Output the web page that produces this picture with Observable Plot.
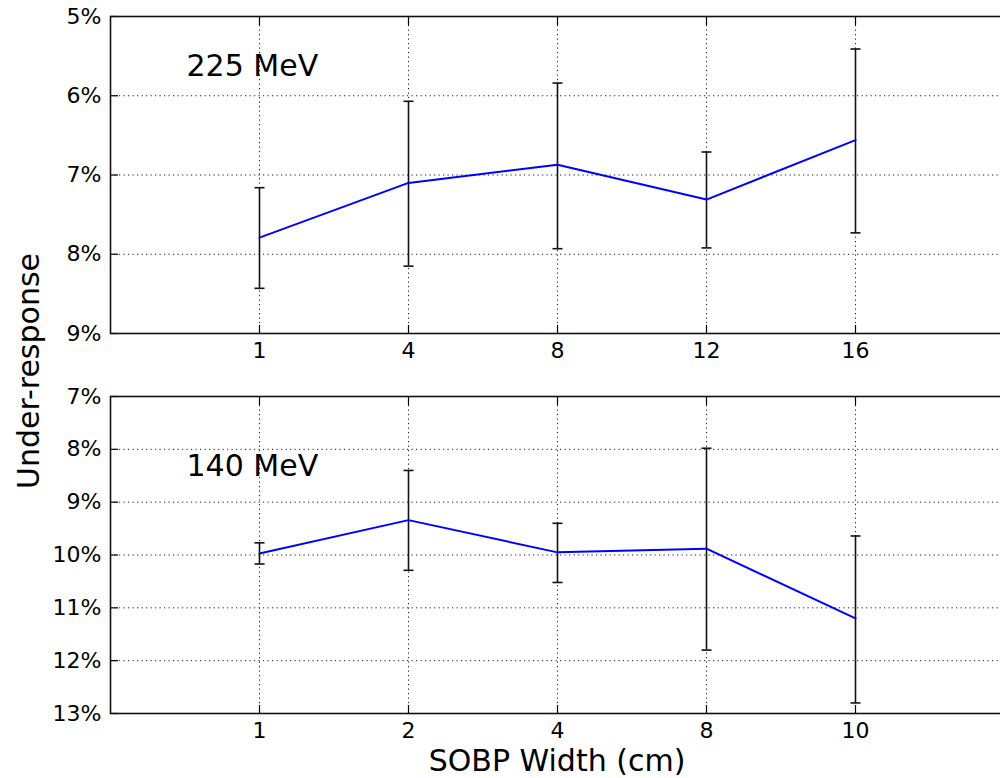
<!DOCTYPE html>
<html><head><meta charset="utf-8">
<script src="https://cdn.jsdelivr.net/npm/d3@7"></script>
<script src="https://cdn.jsdelivr.net/npm/@observablehq/plot@0.6"></script>
<style>
html,body{margin:0;padding:0;background:#fff;overflow:hidden;}
#wrap{position:relative;width:1000px;height:778px;overflow:hidden;font-family:"DejaVu Sans",sans-serif;color:#000;background:#fff;}
.panel{position:absolute;left:0;width:1004px;height:370px;}
.panel svg{max-width:none !important;}
#ylab{position:absolute;left:28px;top:371px;transform:translate(-50%,-50%) rotate(-90deg);font-size:30px;white-space:nowrap;}
#xlab{position:absolute;left:557px;top:760px;transform:translate(-50%,-50%);font-size:30px;white-space:nowrap;}
</style></head><body>
<div id="wrap">
  <div class="panel" id="p1" style="top:0px"></div>
  <div class="panel" id="p2" style="top:380px"></div>
  <div id="ylab">Under-response</div>
  <div id="xlab">SOBP Width (cm)</div>
</div>
<script>
// Top panel: 225 MeV
const topWidths = ["1", "4", "8", "12", "16"];
const topValues = [7.79, 7.10, 6.87, 7.31, 6.56];
const topLow    = [7.16, 6.07, 5.84, 6.71, 5.41];
const topHigh   = [8.43, 8.15, 7.93, 7.92, 7.73];
const topYTicks = [5, 6, 7, 8, 9];
const topNote = "225 MeV";

// Bottom panel: 140 MeV
const botWidths = ["1", "2", "4", "8", "10"];
const botValues = [9.97, 9.34, 9.95, 9.88, 11.20];
const botLow    = [9.77, 8.40, 9.40, 7.98, 9.64];
const botHigh   = [10.17, 10.29, 10.52, 11.80, 12.80];
const botYTicks = [7, 8, 9, 10, 11, 12, 13];
const botNote = "140 MeV";

// horizontal cap symbol for error bars
const capSymbol = {
  draw(context, size) {
    const w = Math.sqrt(size / Math.PI);
    context.moveTo(-w, 0);
    context.lineTo(w, 0);
  }
};

function panel(cats, vals, lo, hi, yTicks, note, noteDy) {
  const rows = cats.map((c, i) => ({c, v: vals[i], lo: lo[i], hi: hi[i]}));
  const ydom = [yTicks[0], yTicks[yTicks.length - 1]];
  const grid = {stroke: "black", strokeOpacity: 0.9, strokeWidth: 1, strokeDasharray: "1.2,3.3"};
  return Plot.plot({
    width: 1004, height: 370,
    marginLeft: 110, marginRight: 0, marginTop: 16, marginBottom: 37,
    style: {fontFamily: "DejaVu Sans", fontSize: "22px", background: "white", color: "black", overflow: "visible", maxWidth: "none"},
    x: {type: "point", domain: cats, padding: 1},
    y: {domain: ydom, reverse: true},
    marks: [
      Plot.gridX(cats, grid),
      Plot.gridY(yTicks, grid),
      Plot.axisX({anchor: "bottom", tickSize: 0, tickPadding: 9, fontSize: 22, label: null}),
      Plot.axisX({anchor: "bottom", tickSize: -8, fill: "none", label: null, strokeWidth: 1.2}),
      Plot.axisX({anchor: "top", tickSize: -8, fill: "none", label: null, strokeWidth: 1.2}),
      Plot.axisY(yTicks, {anchor: "left", tickSize: 0, tickPadding: 9, fontSize: 22, tickFormat: d => d + "%", label: null}),
      Plot.axisY(yTicks, {anchor: "left", tickSize: -8, fill: "none", label: null, strokeWidth: 1.2}),
      Plot.frame({stroke: "#111", strokeWidth: 1.6}),
      Plot.ruleX(rows, {x: "c", y1: "lo", y2: "hi", stroke: "#111", strokeWidth: 1.6}),
      Plot.dot(rows, {x: "c", y: "lo", r: 5, symbol: capSymbol, fill: "none", stroke: "#111", strokeWidth: 1.6}),
      Plot.dot(rows, {x: "c", y: "hi", r: 5, symbol: capSymbol, fill: "none", stroke: "#111", strokeWidth: 1.6}),
      Plot.line(rows, {x: "c", y: "v", stroke: "#0000ff", strokeWidth: 2}),
      Plot.text([note], {frameAnchor: "top-left", dx: 76, dy: noteDy, textAnchor: "start", fontSize: 30, fill: "black"})
    ]
  });
}

document.getElementById("p1").appendChild(panel(topWidths, topValues, topLow, topHigh, topYTicks, topNote, 38));
document.getElementById("p2").appendChild(panel(botWidths, botValues, botLow, botHigh, botYTicks, botNote, 58));
</script>
</body></html>
